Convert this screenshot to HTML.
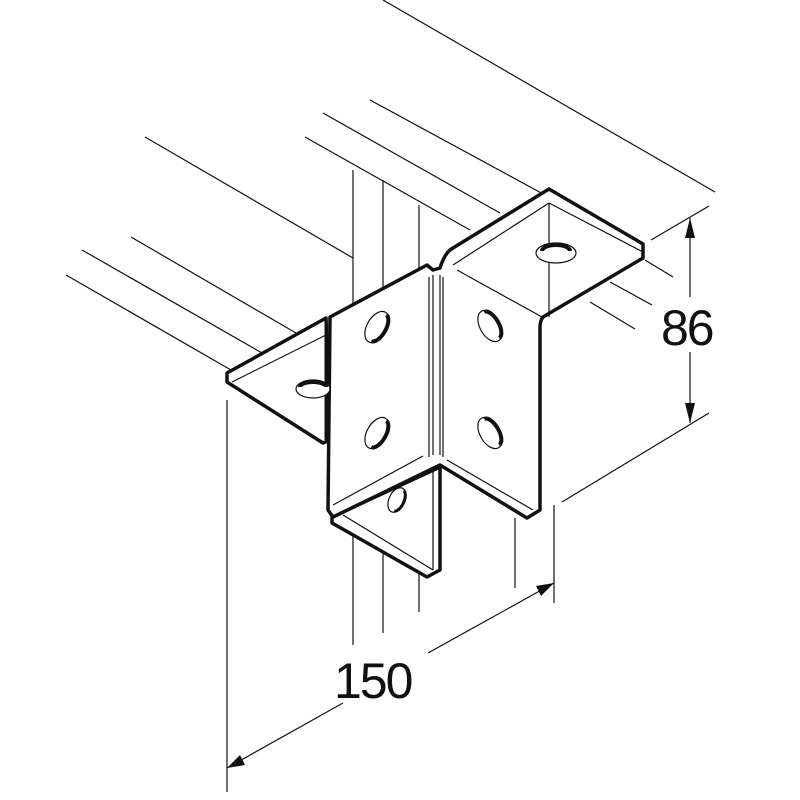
<!DOCTYPE html>
<html><head><meta charset="utf-8"><style>html,body{margin:0;padding:0;background:#fff}svg{display:block}</style></head>
<body>
<svg width="800" height="800" viewBox="0 0 800 800" xmlns="http://www.w3.org/2000/svg">
<rect width="800" height="800" fill="#fff"/>
<g stroke="#111" stroke-width="1.2" fill="none">
<line x1="383" y1="0" x2="715" y2="192"/>
<line x1="370" y1="100" x2="545" y2="195"/>
<line x1="323" y1="113" x2="500" y2="213"/>
<line x1="305" y1="137" x2="470" y2="230"/>
<line x1="645" y1="260" x2="673" y2="277"/>
<line x1="610" y1="282" x2="652" y2="305"/>
<line x1="590" y1="302" x2="635" y2="329"/>
<line x1="145" y1="137" x2="353" y2="258"/>
<line x1="131" y1="237" x2="296" y2="333"/>
<line x1="82" y1="250" x2="262" y2="353"/>
<line x1="66" y1="275" x2="231" y2="370"/>
<line x1="353" y1="170" x2="353" y2="645"/>
<line x1="383" y1="180" x2="383" y2="633"/>
<line x1="419" y1="205" x2="419" y2="612"/>
<line x1="515" y1="518" x2="515" y2="588"/>
<line x1="554" y1="505" x2="554" y2="603"/>
<line x1="227" y1="400" x2="227" y2="792"/>
<line x1="227" y1="768" x2="343" y2="703"/>
<line x1="428" y1="653" x2="554" y2="583"/>
<line x1="651" y1="240" x2="709" y2="206"/>
<line x1="562" y1="502" x2="709" y2="413"/>
<line x1="690" y1="218" x2="690" y2="297"/>
<line x1="690" y1="352" x2="690" y2="423"/>
</g>
<g fill="#111">
<polygon points="690,218 685,238 695,238"/>
<polygon points="690,423 685,403 695,403"/>
<polygon points="227,768 240,755 245,765"/>
<polygon points="554,583 541,596 536,586"/>
</g>
<g font-family="Liberation Sans, sans-serif" font-size="50" fill="#111" letter-spacing="-2">
<text x="661" y="345">86</text>
<text x="334" y="698">150</text>
</g>
<g stroke="#111" fill="#fff" stroke-linejoin="round">
<polygon points="326,318 227,373 227,382 323,443 330,440" stroke-width="3.5"/>
<polygon points="332,517 332,523 427,577 440,570 440,467" stroke-width="3.5"/>
<path d="M549,189 L643,244 L643,258 L543,317 Q540,321 540,327 L540,510 L527,518 L440,465 L333,517 L328,510 L330,317 L427,265 L433,270 L440,268 Q445,252 453,248 Z" stroke-width="3.5"/>
</g>
<g stroke="#111" stroke-width="1.2" fill="none">
<line x1="232" y1="382" x2="326" y2="335"/>
<line x1="549" y1="203" x2="643" y2="252"/>
<line x1="453" y1="265" x2="549" y2="203"/>
<line x1="457" y1="270" x2="542" y2="317"/>
<line x1="549" y1="203" x2="549" y2="317"/>
<line x1="333" y1="505" x2="423" y2="456"/>
<line x1="343" y1="515" x2="433" y2="570"/>
<line x1="433" y1="468" x2="433" y2="570"/>
<line x1="447" y1="460" x2="533" y2="510"/>
<line x1="429" y1="277" x2="429" y2="457"/>
<line x1="443" y1="277" x2="443" y2="457"/>
<line x1="433" y1="275" x2="433" y2="455"/>
<line x1="440" y1="275" x2="440" y2="455"/>
<line x1="326" y1="320" x2="326" y2="440" stroke-width="3"/>
</g>
<g stroke="#111" fill="#fff">
<g transform="translate(377,327) rotate(30)"><ellipse rx="10" ry="17" stroke-width="1.2"/><path d="M2,-15 A7,15 0 0 1 2,15" stroke-width="4" fill="none"/></g>
<g transform="translate(377,433) rotate(30)"><ellipse rx="10" ry="17" stroke-width="1.2"/><path d="M2,-15 A7,15 0 0 1 2,15" stroke-width="4" fill="none"/></g>
<g transform="translate(490,326) rotate(-30)"><ellipse rx="10" ry="17" stroke-width="1.2"/><path d="M2,-15 A7,15 0 0 1 2,15" stroke-width="4" fill="none"/></g>
<g transform="translate(490,433) rotate(-30)"><ellipse rx="10" ry="17" stroke-width="1.2"/><path d="M2,-15 A7,15 0 0 1 2,15" stroke-width="4" fill="none"/></g>
<g transform="translate(556,253)"><ellipse rx="20" ry="10" stroke-width="1.2"/><path d="M-14,-2 A14,6 0 0 1 14,-2" stroke-width="4" fill="none"/></g>
<g transform="translate(313,389)"><ellipse rx="17" ry="9" stroke-width="1.2"/><path d="M-13,-2 A13,5 0 0 1 13,-2" stroke-width="4" fill="none"/></g>
<g transform="translate(397,500) rotate(25)"><ellipse rx="8" ry="13" stroke-width="1.2"/><path d="M2,-11 A5,11 0 0 1 2,11" stroke-width="3" fill="none"/></g>
</g>
</svg>
</body></html>
